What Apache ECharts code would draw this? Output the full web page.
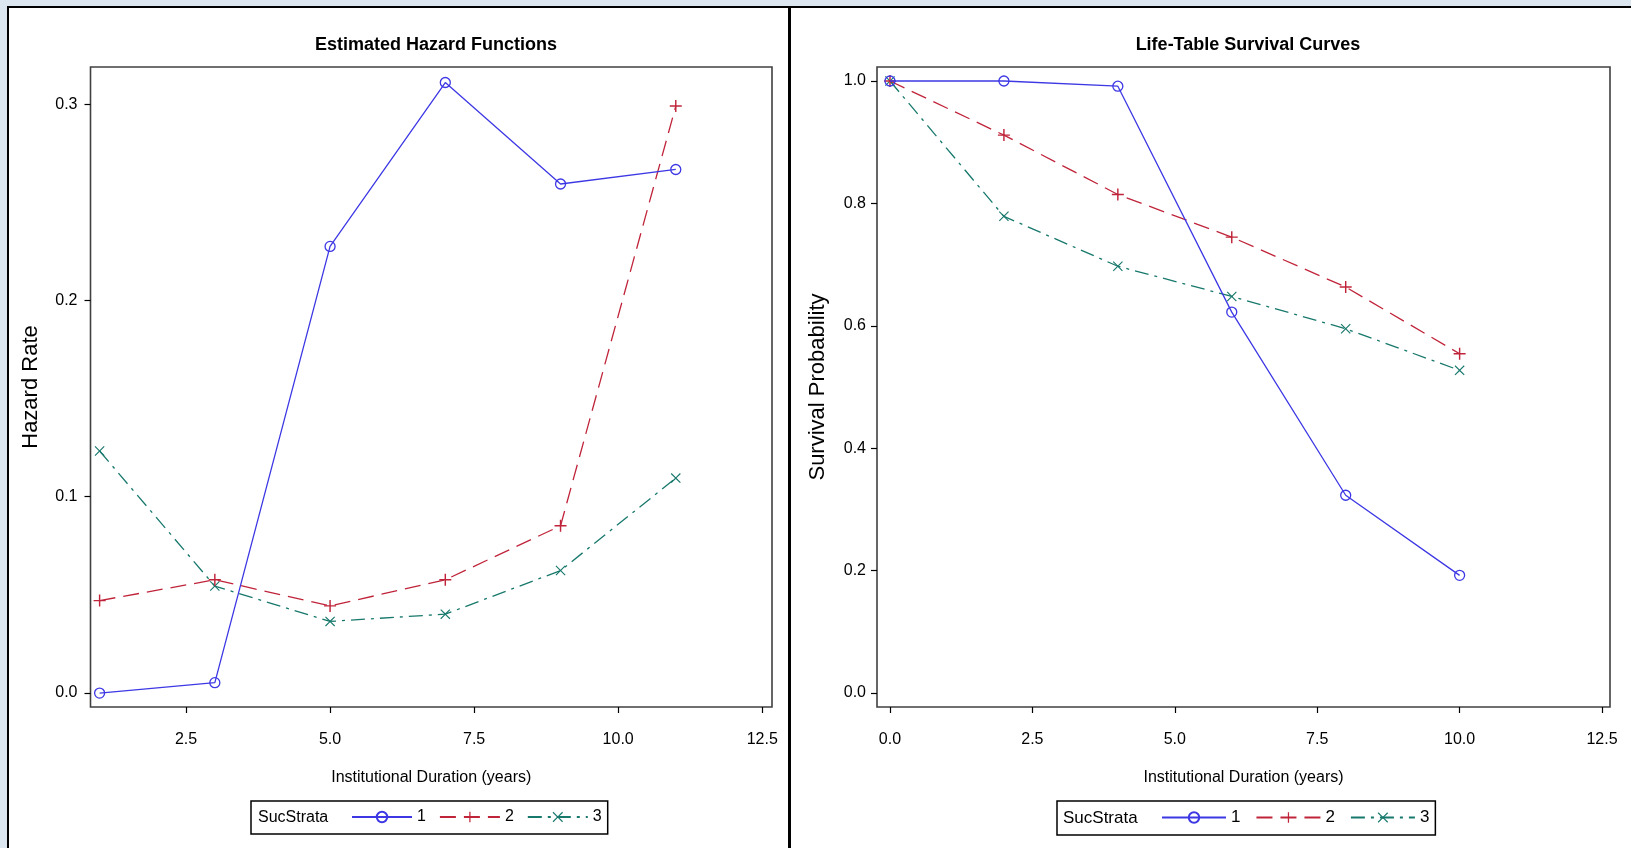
<!DOCTYPE html>
<html><head><meta charset="utf-8">
<script src="https://cdn.jsdelivr.net/npm/echarts@6/dist/echarts.min.js"></script>
<style>
html,body{margin:0;padding:0;width:1631px;height:848px;overflow:hidden;background:#dce6f1;}
#panel{position:absolute;left:7px;top:6px;right:0;bottom:0;background:#fff;border-left:2px solid #000;border-top:2px solid #000;}
#divider{position:absolute;left:788px;top:6px;bottom:0;width:3px;background:#000;}
#chart{position:absolute;left:0;top:0;width:1631px;height:848px;}
</style></head>
<body><div id="panel"></div><div id="divider"></div><div id="chart"></div>
<script>
// ---- data ----
const hazardX = [1, 3, 5, 7, 9, 11];
const hazard1 = [0.000, 0.0053, 0.2275, 0.311, 0.2593, 0.2667];
const hazard2 = [0.0471, 0.0577, 0.0444, 0.0577, 0.0852, 0.299];
const hazard3 = [0.1233, 0.0545, 0.0365, 0.0402, 0.0624, 0.1095];
const survX = [0, 2, 4, 6, 8, 10];
const surv1 = [1.0, 1.0, 0.9915, 0.6224, 0.3231, 0.1922];
const surv2 = [1.0, 0.9116, 0.8146, 0.7449, 0.6633, 0.5544];
const surv3 = [1.0, 0.7789, 0.6973, 0.648, 0.5952, 0.5272];
const strataNames = ['1', '2', '3'];
const hazardXTicks = [2.5, 5.0, 7.5, 10.0, 12.5];
const hazardYTicks = [0.0, 0.1, 0.2, 0.3];
const survXTicks = [0.0, 2.5, 5.0, 7.5, 10.0, 12.5];
const survYTicks = [0.0, 0.2, 0.4, 0.6, 0.8, 1.0];

// ---- styles ----
const FONT = "'Liberation Sans',Arial,sans-serif";
const COLORS = ['#3d38e4', '#c0243a', '#17786c'];
const DASH = ['solid', [16, 8], [14, 6, 3, 6]];
const PLUS = 'path://M4.4,0H5.6V4.4H10V5.6H5.6V10H4.4V5.6H0V4.4H4.4Z';
const CROSS = 'path://M0.8,0L5,4.2L9.2,0L10,0.8L5.8,5L10,9.2L9.2,10L5,5.8L0.8,10L0,9.2L4.2,5L0,0.8Z';

function zip(xs, ys) { return xs.map((x, i) => [x, ys[i]]); }

function mk(idx, xs, ys, axis) {
  const base = {
    name: strataNames[idx], type: 'line', xAxisIndex: axis, yAxisIndex: axis,
    data: zip(xs, ys), animation: false, z: 3 + (2 - idx),
    lineStyle: { color: COLORS[idx], width: 1.3, type: DASH[idx] },
    emphasis: { disabled: true }
  };
  if (idx === 0) {
    base.symbol = 'circle'; base.symbolSize = 10;
    base.itemStyle = { color: 'rgba(255,255,255,0)', borderColor: COLORS[idx], borderWidth: 1.3 };
  } else if (idx === 1) {
    base.symbol = PLUS; base.symbolSize = 12;
    base.itemStyle = { color: COLORS[idx], borderWidth: 0 };
  } else {
    base.symbol = CROSS; base.symbolSize = 10;
    base.itemStyle = { color: COLORS[idx], borderWidth: 0 };
  }
  return base;
}

function xAxisCfg(grid, min, max, ticks) {
  return {
    type: 'value', gridIndex: grid, min: min, max: max,
    name: 'Institutional Duration (years)', nameLocation: 'middle', nameGap: 63,
    nameTextStyle: { fontFamily: FONT, fontSize: 16, color: '#000' },
    axisLine: { show: false, onZero: false },
    axisTick: { show: true, length: 6, inside: false, customValues: ticks, lineStyle: { color: '#000', width: 1.2 } },
    axisLabel: { customValues: ticks, margin: 25, fontFamily: FONT, fontSize: 16, color: '#000',
      formatter: v => v.toFixed(1) },
    splitLine: { show: false }
  };
}
function yAxisCfg(grid, min, max, ticks, name, labelMargin, nameGap) {
  return {
    type: 'value', gridIndex: grid, min: min, max: max,
    name: name, nameLocation: 'middle', nameGap: nameGap, nameRotate: 90,
    nameTextStyle: { fontFamily: FONT, fontSize: 22, color: '#000' },
    axisLine: { show: false, onZero: false },
    axisTick: { show: true, length: 6, customValues: ticks, lineStyle: { color: '#000', width: 1.2 } },
    axisLabel: { customValues: ticks, margin: labelMargin, fontFamily: FONT, fontSize: 16, color: '#000',
      formatter: v => v.toFixed(1) },
    splitLine: { show: false }
  };
}
function legendCfg(left, padLeft, fs, iw, gap) {
  return {
    left: left, top: 801, orient: 'horizontal', padding: [8, 6, 9, padLeft],
    borderColor: '#000', borderWidth: 1.5, backgroundColor: '#fff',
    itemWidth: iw, itemHeight: 13, itemGap: gap, selectedMode: false,
    textStyle: { fontFamily: FONT, fontSize: fs, color: '#000' },
    data: strataNames
  };
}

const chart = echarts.init(document.getElementById('chart'), null, { renderer: 'canvas' });
chart.setOption({
  backgroundColor: 'transparent',
  animation: false,
  title: [
    { text: 'Estimated Hazard Functions', left: 431, top: 31, textAlign: 'center',
      textStyle: { fontFamily: FONT, fontWeight: 'bold', fontSize: 18, color: '#000' } },
    { text: 'Life-Table Survival Curves', left: 1243, top: 31, textAlign: 'center',
      textStyle: { fontFamily: FONT, fontWeight: 'bold', fontSize: 18, color: '#000' } },
    { text: 'SucStrata', left: 258, top: 810, padding: 0,
      textStyle: { fontFamily: FONT, fontWeight: 'normal', fontSize: 16, color: '#000' } },
    { text: 'SucStrata', left: 1063, top: 810, padding: 0,
      textStyle: { fontFamily: FONT, fontWeight: 'normal', fontSize: 17, color: '#000' } }
  ],
  grid: [
    { left: 90.5, top: 67, width: 681.5, height: 640, show: true, borderColor: '#404040', borderWidth: 1.6, backgroundColor: 'transparent' },
    { left: 877, top: 67, width: 733, height: 640, show: true, borderColor: '#404040', borderWidth: 1.6, backgroundColor: 'transparent' }
  ],
  xAxis: [
    xAxisCfg(0, 0.842, 12.67, hazardXTicks),
    xAxisCfg(1, -0.228, 12.64, survXTicks)
  ],
  yAxis: [
    yAxisCfg(0, -0.0071, 0.3189, hazardYTicks, 'Hazard Rate', 13, 49),
    yAxisCfg(1, -0.0229, 1.0229, survYTicks, 'Survival Probability', 11, 48)
  ],
  legend: [legendCfg(251, 100, 16, 60, 13), legendCfg(1057, 104, 17, 64, 15)],
  series: [
    mk(0, hazardX, hazard1, 0), mk(1, hazardX, hazard2, 0), mk(2, hazardX, hazard3, 0),
    mk(0, survX, surv1, 1), mk(1, survX, surv2, 1), mk(2, survX, surv3, 1)
  ]
});
</script>
</body></html>
